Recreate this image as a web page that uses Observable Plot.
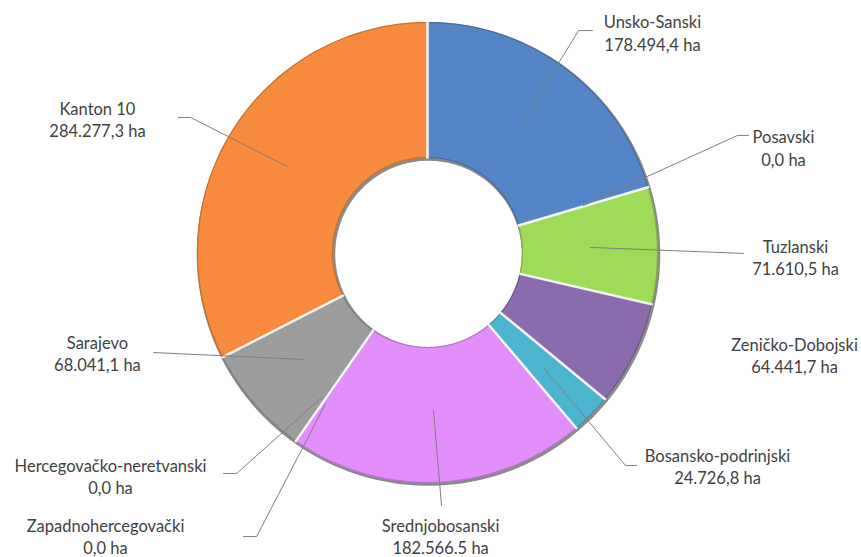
<!DOCTYPE html>
<html>
<head>
<meta charset="utf-8">
<script src="https://cdn.jsdelivr.net/npm/d3@7"></script>
<script src="https://cdn.jsdelivr.net/npm/@observablehq/plot@0.6"></script>
<style>
  html, body { margin: 0; padding: 0; background: #ffffff; }
  #chart { width: 861px; height: 557px; }
</style>
</head>
<body>
<div id="chart"></div>
<script>
// ---- data ----
const cantons = ["Unsko-Sanski", "Posavski", "Tuzlanski", "Zeničko-Dobojski", "Bosansko-podrinjski",
  "Srednjobosanski", "Hercegovačko-neretvanski", "Zapadnohercegovački", "Sarajevo", "Kanton 10"];
const areas = [178494.4, 0, 71610.5, 64441.7, 24726.8, 182566.5, 0, 0, 68041.1, 284277.3];
const valueLabels = ["178.494,4 ha", "0,0 ha", "71.610,5 ha", "64.441,7 ha", "24.726,8 ha",
  "182.566.5 ha", "0,0 ha", "0,0 ha", "68.041,1 ha", "284.277,3 ha"];

// ---- styles ----
const colors = ["#5485c7", "#c0504d", "#9edb58", "#896bae", "#4bb5d0",
  "#e28ffb", "#4f6228", "#1f497d", "#9c9c9c", "#f78a3c"];

// ---- layout (chart units: outer radius = 1, centre at 0,0) ----
const innerRatio = 0.413;
const labelPos = [[0.978, 0.957], [1.548, 0.457], [1.6, -0.02], [1.596, -0.444], [1.261, -0.928],
  [0.057, -1.231], [-1.378, -0.972], [-1.4, -1.231], [-1.435, -0.437], [-1.435, 0.58]];
const leaderPaths = [
  [[0.717, 0.965], [0.657, 0.965], [0.417, 0.574]],
  [[1.396, 0.509], [1.348, 0.509], [0.678, 0.204]],
  [[1.374, -0.004], [0.709, 0.022]],
  [],
  [[0.909, -0.926], [0.861, -0.926], [0.504, -0.5]],
  [[0.061, -1.1], [0.026, -0.687]],
  [[-0.887, -0.961], [-0.830, -0.961], [-0.465, -0.635]],
  [[-0.8, -1.235], [-0.743, -1.235], [-0.443, -0.657]],
  [[-1.191, -0.435], [-0.539, -0.465]],
  [[-1.083, 0.587], [-1.030, 0.587], [-0.609, 0.374]]
];

// ---- build slice polygons from the values ----
const total = d3.sum(areas);
let acc = 0;
const slices = cantons.map((name, i) => {
  const a0 = acc / total * 2 * Math.PI;
  acc += areas[i];
  const a1 = acc / total * 2 * Math.PI;
  return {name, value: areas[i], a0, a1, color: colors[i]};
});
function ring(s) {
  const n = Math.max(2, Math.ceil((s.a1 - s.a0) / (Math.PI / 180)));
  const pts = [];
  for (let k = 0; k <= n; k++) {
    const a = s.a0 + (s.a1 - s.a0) * k / n;
    pts.push({x: Math.sin(a), y: Math.cos(a)});
  }
  for (let k = n; k >= 0; k--) {
    const a = s.a0 + (s.a1 - s.a0) * k / n;
    pts.push({x: innerRatio * Math.sin(a), y: innerRatio * Math.cos(a)});
  }
  return pts;
}
const visible = slices.filter(s => s.value > 0);

const labels = cantons.map((name, i) => ({
  x: labelPos[i][0], y: labelPos[i][1], text: name + "\n" + valueLabels[i]
}));
const leaders = leaderPaths.flatMap((p, i) => p.map(([x, y]) => ({x, y, name: cantons[i]})));

// pixel frame: centre at (427, 252), outer radius 230 px
const W = 861, H = 557, cx = 427, cy = 252, R = 230;

const marks = [];
// soft shadow / bevel edge
for (const s of visible) {
  marks.push(Plot.line(ring(s), {x: "x", y: "y", curve: "linear-closed",
    fill: "#8a8a8a", stroke: "#8a8a8a", strokeWidth: 3.5, dx: 1, dy: 1.5, fillOpacity: 0.9}));
}
for (const s of visible) {
  const dark = d3.color(s.color).darker(0.6).formatHex();
  marks.push(Plot.line(ring(s), {x: "x", y: "y", curve: "linear-closed",
    fill: s.color, stroke: dark, strokeWidth: 1.2}));
}
// white separators
for (const s of visible) {
  marks.push(Plot.line([{x: innerRatio * Math.sin(s.a0), y: innerRatio * Math.cos(s.a0)},
                        {x: Math.sin(s.a0), y: Math.cos(s.a0)}],
    {x: "x", y: "y", stroke: "#f4f4f4", strokeWidth: 2.5}));
}
marks.push(Plot.line(leaders, {x: "x", y: "y", z: "name", stroke: "#7f7f7f", strokeWidth: 1}));
marks.push(Plot.text(labels, {x: "x", y: "y", text: "text", fill: "#3f3f3f", fontSize: 16.5,
  lineHeight: 1.35, textAnchor: "middle", lineAnchor: "middle"}));

const chart = Plot.plot({
  width: W, height: H,
  marginTop: 0, marginRight: 0, marginBottom: 0, marginLeft: 0,
  x: {domain: [-cx / R, (W - cx) / R], axis: null},
  y: {domain: [-(H - cy) / R, cy / R], axis: null},
  style: {fontFamily: "Lato, 'Open Sans', sans-serif", background: "#ffffff"},
  marks
});
document.getElementById("chart").appendChild(chart);
</script>
</body>
</html>
